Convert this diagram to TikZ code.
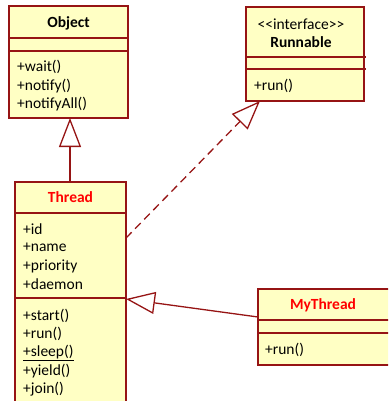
\documentclass[tikz,border=0pt]{standalone}
\usepackage{fontspec}
\setmainfont{Carlito}
\usetikzlibrary{arrows.meta}
\definecolor{boxfill}{RGB}{255,255,196}
\definecolor{boxline}{RGB}{150,20,20}
\definecolor{titlered}{RGB}{255,0,0}
\begin{document}
\begin{tikzpicture}[x=1pt,y=-1pt,
  classbox/.style={draw=boxline,fill=boxfill,line width=1.3pt,anchor=north west,inner sep=0pt,outer sep=0pt},
  divider/.style={draw=boxline,line width=1.3pt},
  txt/.style={font=\fontsize{15.5}{18}\selectfont,inner sep=0pt,anchor=west},
  ttl/.style={font=\fontsize{15.5}{18}\selectfont\bfseries,inner sep=0pt},
  inherit/.style={draw=boxline,line width=1.3pt,-{Triangle[open,length=29pt,width=22pt,fill=white]}},
  realize/.style={inherit,dash pattern=on 8pt off 5pt}]
\useasboundingbox (0,0) rectangle (388,401);
\clip (0,0) rectangle (388,401);
% Object
\node[classbox,minimum width=119pt,minimum height=112pt] (object) at (9,6) {};
\draw[divider] (9,38) -- (128,38) (9,51) -- (128,51);
\node[ttl] (objt) at (68.5,23) {Object};
\node[txt] (objm1) at (17,67) {+wait()};
\node[txt] (objm2) at (17,86) {+notify()};
\node[txt] (objm3) at (17,104) {+notifyAll()};
% Runnable
\node[classbox,minimum width=118pt,minimum height=94pt] (runnable) at (246,7) {};
\draw[divider] (246,57) -- (366,57) (246,69) -- (366,69);
\node[font=\fontsize{15.5}{18}\selectfont,inner sep=0pt] (runs) at (301,24) {<{}<interface>{}>};
\node[ttl] (runt) at (301,42) {Runnable};
\node[txt] (runm1) at (254,86) {+run()};
% Thread
\node[classbox,minimum width=111pt,minimum height=240pt] (thread) at (15,182) {};
\draw[divider] (15,213) -- (126,213) (15,298) -- (126,298);
\node[ttl,text=titlered] (thrt) at (70.5,197) {Thread};
\node[txt] (thrf1) at (23,229) {+id};
\node[txt] (thrf2) at (23,247) {+name};
\node[txt] (thrf3) at (23,266) {+priority};
\node[txt] (thrf4) at (23,284) {+daemon};
\node[txt] (thrm1) at (23,316) {+start()};
\node[txt] (thrm2) at (23,334) {+run()};
\node[txt] (thrm3) at (23,353) {\underline{+sleep()}};
\node[txt] (thrm4) at (23,371) {+yield()};
\node[txt] (thrm5) at (23,389) {+join()};
% MyThread
\node[classbox,minimum width=150pt,minimum height=76pt] (mythread) at (258,289) {};
\draw[divider] (258,320) -- (400,320) (258,333) -- (400,333);
\node[ttl,text=titlered] (myt) at (323,305) {MyThread};
\node[txt] (mym1) at (265,350) {+run()};
% connectors
\coordinate (thrTop) at (70,182);
\coordinate (objBot) at (70,118);
\draw[inherit] (thrTop) -- (objBot);
\coordinate (thrDash) at (126,238);
\coordinate (runBot) at (260,101);
\draw[realize] (thrDash) -- (runBot);
\coordinate (myLeft) at (258,317);
\coordinate (thrRight) at (126,299);
\draw[inherit] (myLeft) -- (thrRight);
\end{tikzpicture}
\end{document}
